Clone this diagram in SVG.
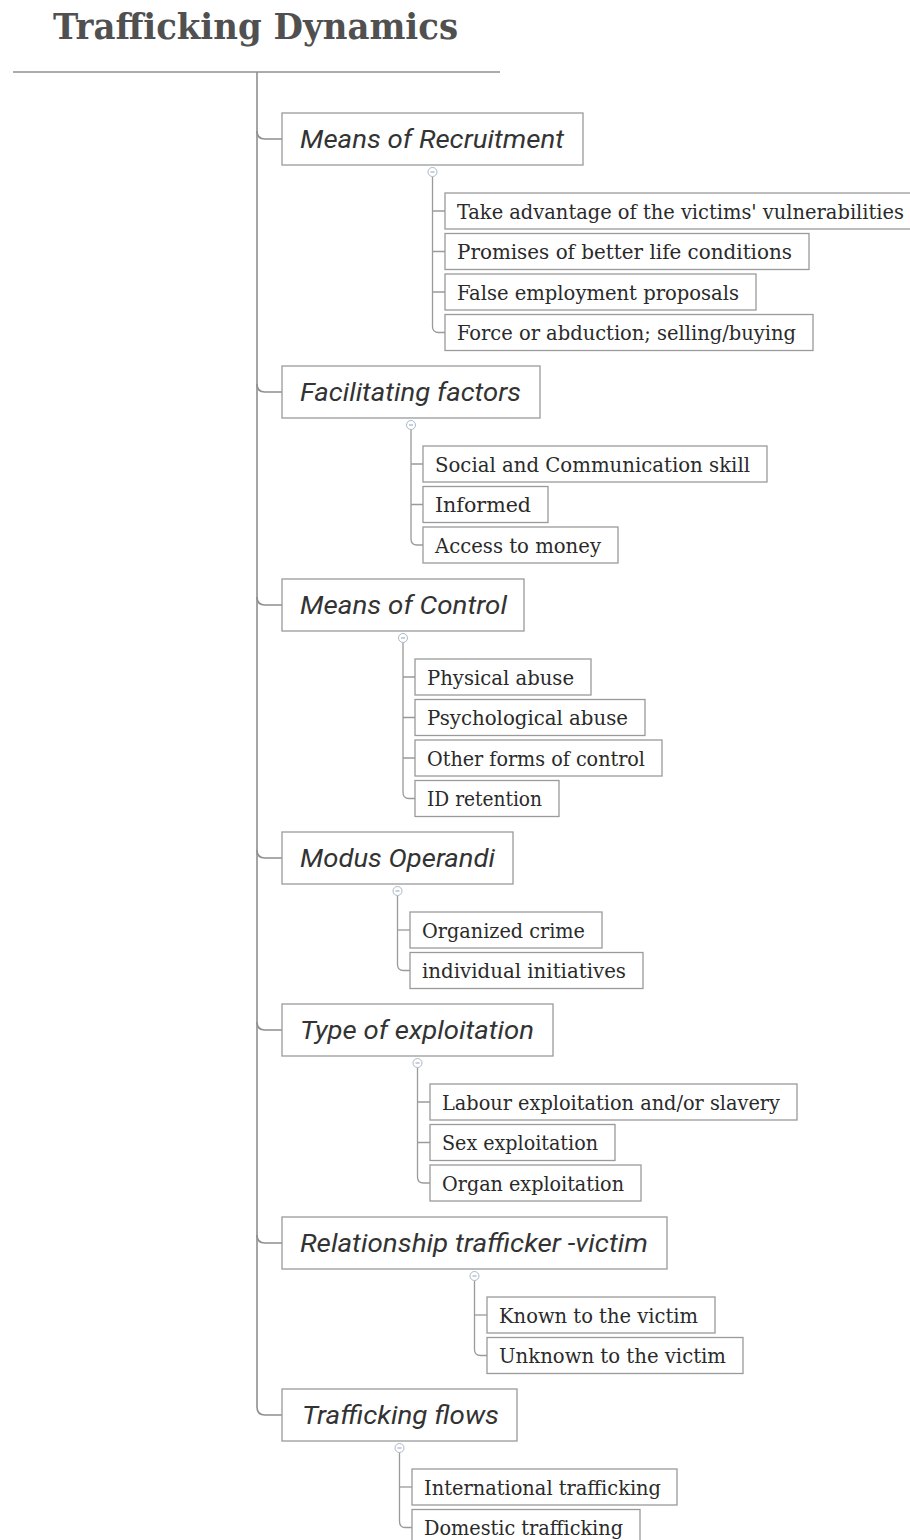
<svg xmlns="http://www.w3.org/2000/svg" width="910" height="1540" viewBox="0 0 910 1540">
<style>
.bg{fill:#ffffff}
.cat rect{fill:#ffffff;stroke:#9a9a9a;stroke-width:1.3}
.cat text{font-family:Roboto,"Liberation Sans",sans-serif;font-style:italic;font-size:25px;fill:#333333}
.leaf rect{fill:#ffffff;stroke:#9a9a9a;stroke-width:1.3}
.leaf text{font-family:"DejaVu Serif Condensed","DejaVu Serif",serif;font-size:20.5px;fill:#2a2a2a}
.title{font-family:"DejaVu Serif Condensed","DejaVu Serif",serif;font-weight:bold;font-size:35px;fill:#505050}
.trunk{fill:none;stroke:#8f8f8f;stroke-width:1.6}
.branch{fill:none;stroke:#9a9a9a;stroke-width:1.3}
.toggle{fill:#ffffff;stroke:#a9b9c9;stroke-width:1}
.minus{stroke:#8fa3b8;stroke-width:1}
</style>
<rect class="bg" x="0" y="0" width="910" height="1540"/>
<g id="title">
<text class="title" x="53" y="39" textLength="405" lengthAdjust="spacingAndGlyphs">Trafficking Dynamics</text>
</g>
<g id="connectors">
<line class="trunk" x1="13" y1="72" x2="500" y2="72"/>
<path class="trunk" d="M257,72 V1407 Q257,1415 265,1415 H282"/>
<path class="trunk" d="M257,131 Q257,139 265,139 H282"/>
<path class="trunk" d="M257,384 Q257,392 265,392 H282"/>
<path class="trunk" d="M257,597 Q257,605 265,605 H282"/>
<path class="trunk" d="M257,850 Q257,858 265,858 H282"/>
<path class="trunk" d="M257,1022 Q257,1030 265,1030 H282"/>
<path class="trunk" d="M257,1235 Q257,1243 265,1243 H282"/>
<path class="branch" d="M432.5,176.5 V326.5 Q432.5,332.5 438.5,332.5 H445"/>
<path class="branch" d="M432.5,211 H445 M432.5,251.5 H445 M432.5,292 H445"/>
<circle class="toggle" cx="432.5" cy="172" r="4.5"/><line class="minus" x1="430.5" y1="172" x2="434.5" y2="172"/>
<path class="branch" d="M411,429.5 V539 Q411,545 417,545 H423"/>
<path class="branch" d="M411,464 H423 M411,504.5 H423"/>
<circle class="toggle" cx="411" cy="425" r="4.5"/><line class="minus" x1="409" y1="425" x2="413" y2="425"/>
<path class="branch" d="M403,642.5 V792.5 Q403,798.5 409,798.5 H415"/>
<path class="branch" d="M403,677 H415 M403,717.5 H415 M403,758 H415"/>
<circle class="toggle" cx="403" cy="638" r="4.5"/><line class="minus" x1="401" y1="638" x2="405" y2="638"/>
<path class="branch" d="M397.5,895.5 V964.5 Q397.5,970.5 403.5,970.5 H410"/>
<path class="branch" d="M397.5,930 H410"/>
<circle class="toggle" cx="397.5" cy="891" r="4.5"/><line class="minus" x1="395.5" y1="891" x2="399.5" y2="891"/>
<path class="branch" d="M417.5,1067.5 V1177 Q417.5,1183 423.5,1183 H430"/>
<path class="branch" d="M417.5,1102 H430 M417.5,1142.5 H430"/>
<circle class="toggle" cx="417.5" cy="1063" r="4.5"/><line class="minus" x1="415.5" y1="1063" x2="419.5" y2="1063"/>
<path class="branch" d="M474.5,1280.5 V1349.5 Q474.5,1355.5 480.5,1355.5 H487"/>
<path class="branch" d="M474.5,1315 H487"/>
<circle class="toggle" cx="474.5" cy="1276" r="4.5"/><line class="minus" x1="472.5" y1="1276" x2="476.5" y2="1276"/>
<path class="branch" d="M399.5,1452.5 V1521.5 Q399.5,1527.5 405.5,1527.5 H412"/>
<path class="branch" d="M399.5,1487 H412"/>
<circle class="toggle" cx="399.5" cy="1448" r="4.5"/><line class="minus" x1="397.5" y1="1448" x2="401.5" y2="1448"/>
</g>

<g id="cat-recruitment" class="cat"><rect x="282" y="113" width="301" height="52"/><text x="300" y="148" textLength="264" lengthAdjust="spacingAndGlyphs">Means of Recruitment</text></g>
<g id="leaf-r1" class="leaf"><rect x="445" y="193" width="475" height="36"/><text x="457" y="218.5" textLength="447" lengthAdjust="spacingAndGlyphs">Take advantage of the victims' vulnerabilities</text></g>
<g id="leaf-r2" class="leaf"><rect x="445" y="233.5" width="364" height="36"/><text x="457" y="259" textLength="335" lengthAdjust="spacingAndGlyphs">Promises of better life conditions</text></g>
<g id="leaf-r3" class="leaf"><rect x="445" y="274" width="311" height="36"/><text x="457" y="299.5" textLength="282" lengthAdjust="spacingAndGlyphs">False employment proposals</text></g>
<g id="leaf-r4" class="leaf"><rect x="445" y="314.5" width="368" height="36"/><text x="457" y="340" textLength="339" lengthAdjust="spacingAndGlyphs">Force or abduction; selling/buying</text></g>

<g id="cat-facilitating" class="cat"><rect x="282" y="366" width="258" height="52"/><text x="300" y="401" textLength="221" lengthAdjust="spacingAndGlyphs">Facilitating factors</text></g>
<g id="leaf-f1" class="leaf"><rect x="423" y="446" width="344" height="36"/><text x="435" y="471.5" textLength="315" lengthAdjust="spacingAndGlyphs">Social and Communication skill</text></g>
<g id="leaf-f2" class="leaf"><rect x="423" y="486.5" width="125" height="36"/><text x="435" y="512" textLength="96" lengthAdjust="spacingAndGlyphs">Informed</text></g>
<g id="leaf-f3" class="leaf"><rect x="423" y="527" width="195" height="36"/><text x="435" y="552.5" textLength="166" lengthAdjust="spacingAndGlyphs">Access to money</text></g>

<g id="cat-control" class="cat"><rect x="282" y="579" width="242" height="52"/><text x="300" y="614" textLength="207" lengthAdjust="spacingAndGlyphs">Means of Control</text></g>
<g id="leaf-c1" class="leaf"><rect x="415" y="659" width="176" height="36"/><text x="427" y="684.5" textLength="147" lengthAdjust="spacingAndGlyphs">Physical abuse</text></g>
<g id="leaf-c2" class="leaf"><rect x="415" y="699.5" width="230" height="36"/><text x="427" y="725" textLength="201" lengthAdjust="spacingAndGlyphs">Psychological abuse</text></g>
<g id="leaf-c3" class="leaf"><rect x="415" y="740" width="247" height="36"/><text x="427" y="765.5" textLength="218" lengthAdjust="spacingAndGlyphs">Other forms of control</text></g>
<g id="leaf-c4" class="leaf"><rect x="415" y="780.5" width="144" height="36"/><text x="427" y="806" textLength="115" lengthAdjust="spacingAndGlyphs">ID retention</text></g>

<g id="cat-modus" class="cat"><rect x="282" y="832" width="231" height="52"/><text x="300" y="867" textLength="195" lengthAdjust="spacingAndGlyphs">Modus Operandi</text></g>
<g id="leaf-m1" class="leaf"><rect x="410" y="912" width="192" height="36"/><text x="422" y="937.5" textLength="163" lengthAdjust="spacingAndGlyphs">Organized crime</text></g>
<g id="leaf-m2" class="leaf"><rect x="410" y="952.5" width="233" height="36"/><text x="422" y="978" textLength="204" lengthAdjust="spacingAndGlyphs">individual initiatives</text></g>

<g id="cat-exploitation" class="cat"><rect x="282" y="1004" width="271" height="52"/><text x="300" y="1039" textLength="234" lengthAdjust="spacingAndGlyphs">Type of exploitation</text></g>
<g id="leaf-e1" class="leaf"><rect x="430" y="1084" width="367" height="36"/><text x="442" y="1109.5" textLength="338" lengthAdjust="spacingAndGlyphs">Labour exploitation and/or slavery</text></g>
<g id="leaf-e2" class="leaf"><rect x="430" y="1124.5" width="185" height="36"/><text x="442" y="1150" textLength="156" lengthAdjust="spacingAndGlyphs">Sex exploitation</text></g>
<g id="leaf-e3" class="leaf"><rect x="430" y="1165" width="211" height="36"/><text x="442" y="1190.5" textLength="182" lengthAdjust="spacingAndGlyphs">Organ exploitation</text></g>

<g id="cat-relationship" class="cat"><rect x="282" y="1217" width="385" height="52"/><text x="300" y="1252" textLength="348" lengthAdjust="spacingAndGlyphs">Relationship trafficker -victim</text></g>
<g id="leaf-v1" class="leaf"><rect x="487" y="1297" width="228" height="36"/><text x="499" y="1322.5" textLength="199" lengthAdjust="spacingAndGlyphs">Known to the victim</text></g>
<g id="leaf-v2" class="leaf"><rect x="487" y="1337.5" width="256" height="36"/><text x="499" y="1363" textLength="227" lengthAdjust="spacingAndGlyphs">Unknown to the victim</text></g>

<g id="cat-flows" class="cat"><rect x="282" y="1389" width="235" height="52"/><text x="302" y="1424" textLength="197" lengthAdjust="spacingAndGlyphs">Trafficking flows</text></g>
<g id="leaf-t1" class="leaf"><rect x="412" y="1469" width="265" height="36"/><text x="424" y="1494.5" textLength="237" lengthAdjust="spacingAndGlyphs">International trafficking</text></g>
<g id="leaf-t2" class="leaf"><rect x="412" y="1509.5" width="228" height="36"/><text x="424" y="1535" textLength="199" lengthAdjust="spacingAndGlyphs">Domestic trafficking</text></g>
</svg>
